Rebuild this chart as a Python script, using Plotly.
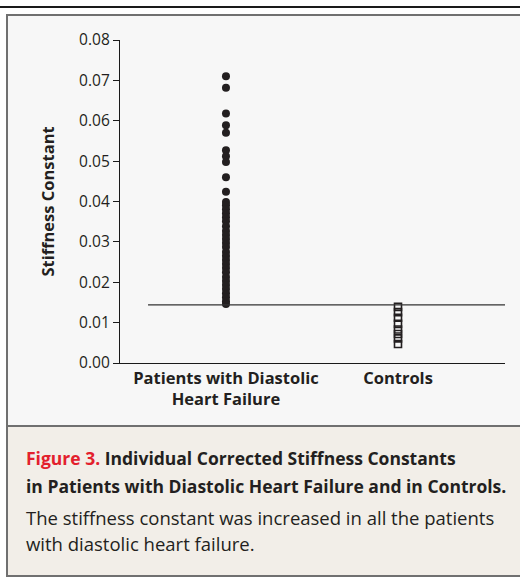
import plotly.graph_objects as go

# ---- data ----
categories = ["Patients with Diastolic<br>Heart Failure", "Controls"]
patients = [0.0710, 0.0682, 0.0618, 0.0589, 0.0570, 0.0527, 0.0512, 0.0498,
            0.0460, 0.0424, 0.0399, 0.0391, 0.0381, 0.0371, 0.0361, 0.0351,
            0.0339, 0.0327, 0.0317, 0.0307, 0.0297, 0.0287, 0.0275, 0.0265,
            0.0255, 0.0245, 0.0235, 0.0225, 0.0213, 0.0203, 0.0193, 0.0183,
            0.0173, 0.0163, 0.0153, 0.0146]
controls = [0.0139, 0.0126, 0.0112, 0.0097, 0.0083, 0.0072, 0.0061, 0.0047]
threshold = 0.0144
y_ticks = [0.00, 0.01, 0.02, 0.03, 0.04, 0.05, 0.06, 0.07, 0.08]

W, H = 520, 578
L, R, T, B = 120, 15, 40, 215
pw, ph = W - L - R, H - T - B

def px(x):
    return (x - L) / pw

def py(y):
    return (H - B - y) / ph

FONT = "Open Sans"
INK = "#231f20"

fig = go.Figure()
fig.add_trace(go.Scatter(
    x=[categories[0]] * len(patients), y=patients, mode="markers",
    marker=dict(symbol="circle", size=8, color=INK),
    showlegend=False, cliponaxis=False))
fig.add_trace(go.Scatter(
    x=[categories[1]] * len(controls), y=controls, mode="markers",
    marker=dict(symbol="square-open", size=7, color=INK, line=dict(width=1.6)),
    showlegend=False, cliponaxis=False))

shapes = [
    # top rule
    dict(type="line", xref="paper", yref="paper", x0=px(0), x1=px(W),
         y0=py(7), y1=py(7), line=dict(color="#1a1a1a", width=2), layer="below"),
    # chart panel
    dict(type="rect", xref="paper", yref="paper", x0=px(7), x1=px(W + 10),
         y0=py(426), y1=py(15), fillcolor="#f7f7f7",
         line=dict(color="#707070", width=2), layer="below"),
    # caption panel
    dict(type="rect", xref="paper", yref="paper", x0=px(7), x1=px(W + 10),
         y0=py(576), y1=py(426), fillcolor="#f2eee8",
         line=dict(color="#707070", width=2), layer="below"),
    # threshold line
    dict(type="line", xref="x", yref="y", x0=-0.453, x1=1.622,
         y0=threshold, y1=threshold, line=dict(color="#333333", width=1.3)),
]

annotations = [
    dict(xref="paper", yref="paper", x=px(24), y=py(458), xanchor="left",
         yanchor="middle", showarrow=False,
         text="<span style='color:#e3202d'>Figure 3.</span> Individual Corrected Stiffness Constants",
         font=dict(family=FONT, size=17.5, color=INK, weight="bold")),
    dict(xref="paper", yref="paper", x=px(24), y=py(486), xanchor="left",
         yanchor="middle", showarrow=False,
         text="in Patients with Diastolic Heart Failure and in Controls.",
         font=dict(family=FONT, size=17.5, color=INK, weight="bold")),
    dict(xref="paper", yref="paper", x=px(24), y=py(517), xanchor="left",
         yanchor="middle", showarrow=False,
         text="The stiffness constant was increased in all the patients",
         font=dict(family=FONT, size=18.5, color=INK)),
    dict(xref="paper", yref="paper", x=px(24), y=py(543), xanchor="left",
         yanchor="middle", showarrow=False,
         text="with diastolic heart failure.",
         font=dict(family=FONT, size=18.5, color=INK)),
]

fig.update_layout(
    width=W, height=H,
    margin=dict(l=L, r=R, t=T, b=B, pad=0),
    paper_bgcolor="white", plot_bgcolor="rgba(0,0,0,0)",
    shapes=shapes, annotations=annotations,
    font=dict(family=FONT, color=INK),
)
fig.update_xaxes(
    type="category", categoryorder="array", categoryarray=categories,
    range=[-0.616, 1.622], showgrid=False, zeroline=False,
    showline=True, linecolor="#1a1a1a", linewidth=1.3,
    ticks="", tickfont=dict(family=FONT, size=16.5, color=INK, weight="bold"),
    fixedrange=True,
)
fig.update_yaxes(
    range=[0, 0.08], tickvals=y_ticks, tickformat=".2f",
    showgrid=False, zeroline=False,
    showline=True, linecolor="#1a1a1a", linewidth=1.3,
    ticks="outside", ticklen=6, tickwidth=1.3, tickcolor="#1a1a1a",
    tickfont=dict(family=FONT, size=15.5, color=INK),
    title=dict(text="Stiffness Constant", standoff=20,
               font=dict(family=FONT, size=16.5, color=INK, weight="bold")),
    fixedrange=True,
)

fig.write_html("out.html", config={"displayModeBar": False},
               post_script="document.body.style.margin='0';")
